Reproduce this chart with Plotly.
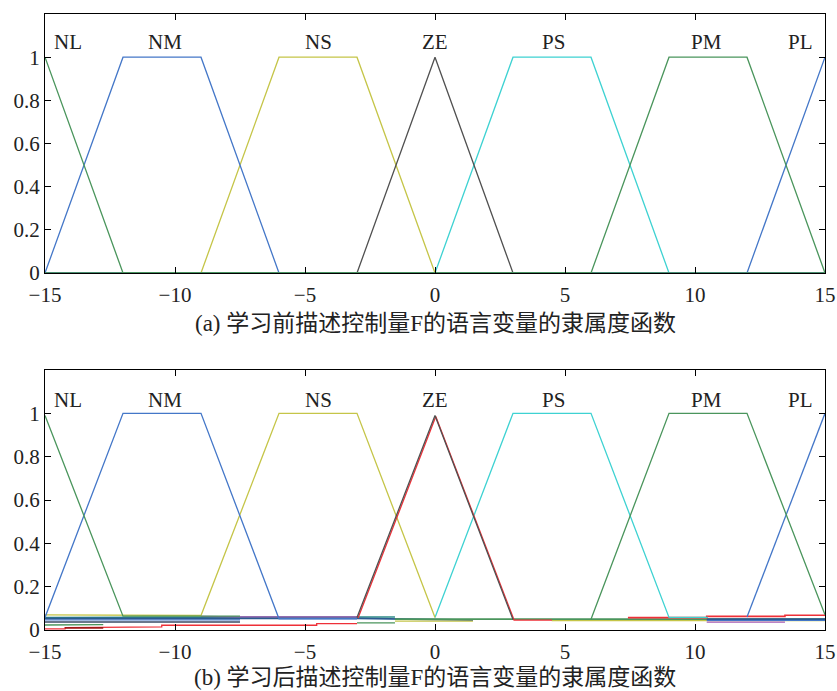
import plotly.graph_objects as go

# ---- membership functions before learning (panel a) ----
x_nl_a = [-15, -12, 15]
y_nl_a = [1, 0, 0]
x_nm_a = [-15, -12, -9, -6, 15]
y_nm_a = [0, 1, 1, 0, 0]
x_ns_a = [-15, -9, -6, -3, 0, 15]
y_ns_a = [0, 0, 1, 1, 0, 0]
x_ze_a = [-15, -3, 0, 3, 15]
y_ze_a = [0, 0, 1, 0, 0]
x_ps_a = [-15, 0, 3, 6, 9, 15]
y_ps_a = [0, 0, 1, 1, 0, 0]
x_pm_a = [-15, 6, 9, 12, 15]
y_pm_a = [0, 0, 1, 1, 0]
x_pl_a = [-15, 12, 15]
y_pl_a = [0, 0, 1]

# ---- membership functions after learning (panel b) ----
x_nl_b = [-15, -12, -7.5]
y_nl_b = [0.99, 0.064, 0.064]
x_nm_b = [-15, -12, -9, -6, -3]
y_nm_b = [0.058, 1, 1, 0.052, 0.052]
x_ns_b = [-15, -13.5, -13.5, -9, -6, -3, 0]
y_ns_b = [0.070, 0.070, 0.067, 0.067, 1, 1, 0.058]
x_ze_red_b = [-2.96, 0.03, 3.04, 4.5]
y_ze_red_b = [0.055, 0.985, 0.046, 0.046]
x_ze_blk_b = [-3, 0, 3]
y_ze_blk_b = [0.058, 0.99, 0.048]
x_ps_b = [0, 3, 6, 9, 10.5]
y_ps_b = [0.058, 1, 1, 0.058, 0.058]
x_pm_b = [6, 9, 12, 15]
y_pm_b = [0.05, 1, 1, 0.07]
x_pl_b = [12, 15]
y_pl_b = [0.06, 1]

# stepped residual levels near zero after learning
x_purple_b = [-9, -7.5, -3]
y_purple_b = [0.063, 0.061, 0.061]
x_purple2_b = [10.45, 13.46]
y_purple2_b = [0.036, 0.036]
x_teal_b = [-15, -3, -1.54]
y_teal_b = [0.058, 0.058, 0.060]
x_dblue_b = [-15, -3, 1.46]
y_dblue_b = [0.054, 0.054, 0.046]
x_dblue2_b = [10.45, 15]
y_dblue2_b = [0.050, 0.050]
x_blue_b = [-15, -7.5]
y_blue_b = [0.047, 0.047]
x_blue2_b = [10.45, 15]
y_blue2_b = [0.045, 0.045]
x_slate_b = [-15, -7.5]
y_slate_b = [0.037, 0.037]
x_green_b = [-15, -13.53, -13.53, -12.76]
y_green_b = [0.023, 0.023, 0.025, 0.025]
x_green2_b = [-3, -1.54]
y_green2_b = [0.033, 0.033]
x_green3_b = [-1.54, 15]
y_green3_b = [0.050, 0.050]
x_red_b = [-15, -14.23, -14.23, -12.76, -12.76, -10.51, -10.51, -4.55, -4.55, -3]
y_red_b = [0.005, 0.005, 0.011, 0.011, 0.014, 0.014, 0.022, 0.022, 0.029, 0.029]
x_dred_b = [-14.23, -12.76]
y_dred_b = [0.010, 0.010]
x_red2_b = [7.42, 10.45, 10.45, 13.46, 13.46, 15]
y_red2_b = [0.057, 0.057, 0.063, 0.063, 0.068, 0.068]
x_yel2_b = [4.49, 15]
y_yel2_b = [0.043, 0.043]
x_yel3_b = [-1.54, 1.46]
y_yel3_b = [0.041, 0.041]

labels = ["NL", "NM", "NS", "ZE", "PS", "PM", "PL"]
label_x = [-14.1, -10.4, -4.5, 0, 4.55, 10.45, 14.05]
x_ticks = [-15, -10, -5, 0, 5, 10, 15]
y_ticks = [0, 0.2, 0.4, 0.6, 0.8, 1]
captions = ["(a) 学习前描述控制量F的语言变量的隶属度函数",
            "(b) 学习后描述控制量F的语言变量的隶属度函数"]

BLUE = "#4477c8"
GREEN = "#4a955c"
YELLOW = "#c5c548"
GRAY = "#505050"
CYAN = "#3ed2d2"
RED = "#ee3038"
PURPLE = "#a45ab4"
TEAL = "#2f8c88"
DBLUE = "#2b5a90"
SLATE = "#3a4a66"

fig = go.Figure()


def add(x, y, color, ax, width=1.3):
    fig.add_trace(go.Scatter(x=x, y=y, mode="lines", xaxis="x" + ax, yaxis="y" + ax,
                             line=dict(color=color, width=width), showlegend=False,
                             hoverinfo="skip"))


# panel a
for x, y, c in [(x_ps_a, y_ps_a, CYAN), (x_ns_a, y_ns_a, YELLOW), (x_ze_a, y_ze_a, GRAY),
                (x_pl_a, y_pl_a, BLUE), (x_nm_a, y_nm_a, BLUE), (x_nl_a, y_nl_a, GREEN),
                (x_pm_a, y_pm_a, GREEN)]:
    add(x, y, c, "")

# panel b: residual steps first, then the main shapes
for x, y, c, w in [(x_red_b, y_red_b, RED, 1.3), (x_dred_b, y_dred_b, "#a01818", 1.6),
                   (x_green_b, y_green_b, GREEN, 1.3), (x_slate_b, y_slate_b, SLATE, 1.3),
                   (x_blue_b, y_blue_b, BLUE, 1.3), (x_teal_b, y_teal_b, TEAL, 1.6),
                   (x_dblue_b, y_dblue_b, DBLUE, 1.8), (x_green2_b, y_green2_b, GREEN, 1.3),
                   (x_yel3_b, y_yel3_b, YELLOW, 1.3), (x_yel2_b, y_yel2_b, YELLOW, 1.3),
                   (x_green3_b, y_green3_b, GREEN, 1.8), (x_purple_b, y_purple_b, PURPLE, 1.3),
                   (x_purple2_b, y_purple2_b, PURPLE, 1.3), (x_blue2_b, y_blue2_b, BLUE, 1.3),
                   (x_dblue2_b, y_dblue2_b, DBLUE, 1.6), (x_red2_b, y_red2_b, RED, 1.6)]:
    add(x, y, c, "2", w)

for x, y, c in [(x_ps_b, y_ps_b, CYAN), (x_ns_b, y_ns_b, YELLOW), (x_pl_b, y_pl_b, BLUE),
                (x_nm_b, y_nm_b, BLUE), (x_nl_b, y_nl_b, GREEN), (x_pm_b, y_pm_b, GREEN),
                (x_ze_red_b, y_ze_red_b, RED), (x_ze_blk_b, y_ze_blk_b, GRAY)]:
    add(x, y, c, "2")

FONT = "Liberation Serif, Times New Roman, serif"
tickfont = dict(family=FONT, size=21, color="#222222")

xcommon = dict(range=[-15, 15], tickvals=x_ticks, ticks="inside", ticklen=6,
               tickcolor="black", showline=True, linecolor="black", linewidth=1.3,
               mirror="ticks", showgrid=False, zeroline=False, tickfont=tickfont,
               automargin=False, ticklabelstandoff=3)
ycommon = dict(range=[0, 1.2], tickvals=y_ticks, ticks="inside", ticklen=6,
               tickcolor="black", showline=True, linecolor="black", linewidth=1.3,
               mirror="ticks", showgrid=False, zeroline=False, tickfont=tickfont,
               automargin=False)

annotations = []
for ax, ylab in [("", 1.07), ("2", 1.06)]:
    for t, xl in zip(labels, label_x):
        annotations.append(dict(x=xl, y=ylab, xref="x" + ax, yref="y" + ax, text=t,
                                showarrow=False, font=dict(family=FONT, size=21, color="#222222")))
cap_font = dict(family="Liberation Serif, Noto Sans CJK SC, serif", size=23, color="#222222")
for cap, ypix in zip(captions, [324, 677]):
    annotations.append(dict(x=0.5, y=1 - ypix / 691, xref="paper", yref="paper", text=cap,
                            xanchor="center", yanchor="middle", showarrow=False, font=cap_font))

fig.update_layout(
    width=837, height=691,
    margin=dict(l=45, r=12, t=0, b=0, autoexpand=False),
    paper_bgcolor="white", plot_bgcolor="white",
    xaxis=dict(**xcommon, anchor="y", domain=[0, 1]),
    yaxis=dict(**ycommon, anchor="x", domain=[1 - 273 / 691, 1 - 14 / 691]),
    xaxis2=dict(**xcommon, anchor="y2", domain=[0, 1]),
    yaxis2=dict(**ycommon, anchor="x2", domain=[1 - 630 / 691, 1 - 370 / 691]),
    annotations=annotations,
)

fig.write_html("out.html")
